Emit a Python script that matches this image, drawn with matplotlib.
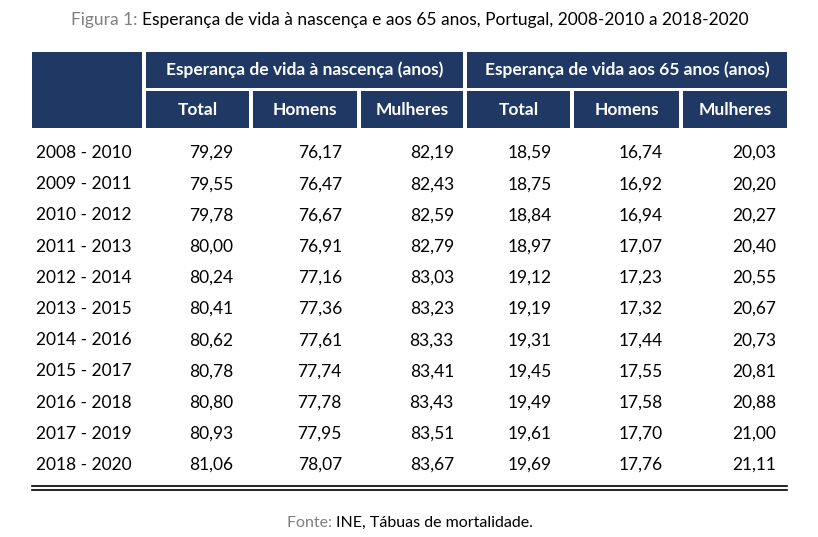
import matplotlib
matplotlib.use("Agg")
import matplotlib.pyplot as plt
from matplotlib.patches import Rectangle

periods = ["2008 - 2010", "2009 - 2011", "2010 - 2012", "2011 - 2013", "2012 - 2014",
           "2013 - 2015", "2014 - 2016", "2015 - 2017", "2016 - 2018", "2017 - 2019",
           "2018 - 2020"]
birth_total = [79.29, 79.55, 79.78, 80.00, 80.24, 80.41, 80.62, 80.78, 80.80, 80.93, 81.06]
birth_men = [76.17, 76.47, 76.67, 76.91, 77.16, 77.36, 77.61, 77.74, 77.78, 77.95, 78.07]
birth_women = [82.19, 82.43, 82.59, 82.79, 83.03, 83.23, 83.33, 83.41, 83.43, 83.51, 83.67]
at65_total = [18.59, 18.75, 18.84, 18.97, 19.12, 19.19, 19.31, 19.45, 19.49, 19.61, 19.69]
at65_men = [16.74, 16.92, 16.94, 17.07, 17.23, 17.32, 17.44, 17.55, 17.58, 17.70, 17.76]
at65_women = [20.03, 20.20, 20.27, 20.40, 20.55, 20.67, 20.73, 20.81, 20.88, 21.00, 21.11]
groups = ["Esperança de vida à nascença (anos)", "Esperança de vida aos 65 anos (anos)"]
subcols = ["Total", "Homens", "Mulheres"] * 2

NAVY = "#1f3864"
GREY = "#7f7f7f"
FONT = "Lato"

fig = plt.figure(figsize=(8.18, 5.37), dpi=100)
ax = fig.add_axes([0, 0, 1, 1])
ax.set_xlim(0, 818)
ax.set_ylim(537, 0)
ax.axis("off")


def rich_line(parts, xc, y, size):
    # draw coloured pieces side by side, centred on xc
    fig.canvas.draw()
    r = fig.canvas.get_renderer()
    texts = [ax.text(0, y, s, color=c, fontsize=size, family=FONT, va="center") for s, c in parts]
    widths = []
    inv = ax.transData.inverted()
    for t in texts:
        bb = t.get_window_extent(r)
        p0 = inv.transform((bb.x0, bb.y0))
        p1 = inv.transform((bb.x1, bb.y0))
        widths.append(p1[0] - p0[0])
    x = xc - sum(widths) / 2
    for t, w in zip(texts, widths):
        t.set_x(x)
        x += w


rich_line([("Figura 1: ", GREY),
           ("Esperança de vida à nascença e aos 65 anos, Portugal, 2008-2010 a 2018-2020", "black")],
          410, 20, 12.5)

# header blocks
ax.add_patch(Rectangle((32, 52), 110, 76, color=NAVY, lw=0))
group_x = [(146, 463), (467, 787)]
for (x0, x1), g in zip(group_x, groups):
    ax.add_patch(Rectangle((x0, 52), x1 - x0, 36, color=NAVY, lw=0))
    ax.text((x0 + x1) / 2, 70, g, color="white", fontsize=12.5, family=FONT,
            weight="bold", ha="center", va="center")
sub_x = [(146, 249), (253, 357), (361, 463), (467, 570), (574, 679), (683, 787)]
for (x0, x1), s in zip(sub_x, subcols):
    ax.add_patch(Rectangle((x0, 91), x1 - x0, 37, color=NAVY, lw=0))
    ax.text((x0 + x1) / 2, 110, s, color="white", fontsize=12.5, family=FONT,
            weight="bold", ha="center", va="center")

cols = [birth_total, birth_men, birth_women, at65_total, at65_men, at65_women]
right_x = [233, 342, 454, 552, 663, 776]
for i, p in enumerate(periods):
    y = 153 + i * 31.2
    ax.text(36, y, p, fontsize=12.5, family=FONT, va="center")
    for vals, xr in zip(cols, right_x):
        ax.text(xr, y, f"{vals[i]:.2f}".replace(".", ","), fontsize=12.5,
                family=FONT, ha="right", va="center")

ax.plot([32, 787], [486, 486], color="black", lw=1.2)
ax.plot([32, 787], [489.5, 489.5], color="black", lw=1.2)

rich_line([("Fonte: ", GREY), ("INE, Tábuas de mortalidade.", "black")], 410, 523, 11.5)

fig.savefig("out.png", dpi=100)
